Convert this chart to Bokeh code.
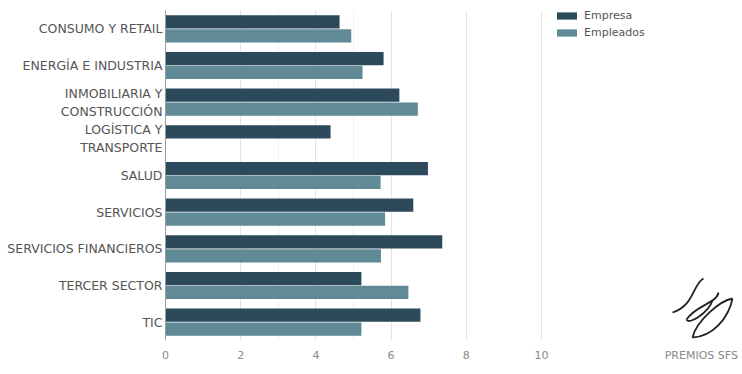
import numpy as np
from bokeh.plotting import figure
from bokeh.models import (ColumnDataSource, FactorRange, Range1d, FixedTicker,
                          Legend, LegendItem)
from bokeh.transform import dodge
from bokeh.embed import file_html
from bokeh.resources import INLINE

# ---- data ----
categories = ["CONSUMO Y RETAIL", "ENERGÍA E INDUSTRIA", "INMOBILIARIA Y\nCONSTRUCCIÓN",
              "LOGÍSTICA Y\nTRANSPORTE", "SALUD", "SERVICIOS", "SERVICIOS FINANCIEROS",
              "TERCER SECTOR", "TIC"]
empresa = [4.63, 5.80, 6.22, 4.39, 6.98, 6.59, 7.36, 5.21, 6.78]
empleados = [4.94, 5.24, 6.71, np.nan, 5.72, 5.84, 5.73, 6.46, 5.21]
x_ticks = [0, 2, 4, 6, 8, 10]
x_minor = [3, 5]
series_names = ["Empresa", "Empleados"]

DARK = "#2d4a5c"
LIGHT = "#608a95"
FONT = "DejaVu Sans"

W, H = 742, 368
LEFT, TOP, BOTTOM = 165, 10, 28
PX_PER_UNIT = 37.6
FRAME_H = H - TOP - BOTTOM
CAPTION_POS = 14.25  # x position (axis units) of the logo caption, beside the tick labels

def px_x(v):  # page pixel -> data x (decorative logo only)
    return (np.asarray(v, dtype=float) - LEFT) / PX_PER_UNIT

def px_y(v):  # page pixel -> synthetic categorical y (decorative logo only)
    return (H - BOTTOM - np.asarray(v, dtype=float)) / FRAME_H * len(categories)

src = ColumnDataSource(data=dict(cat=categories,
                                 empresa=np.array(empresa, dtype=float),
                                 empleados=np.array(empleados, dtype=float)))

p = figure(width=W, height=H, output_backend="svg", toolbar_location=None,
           y_range=FactorRange(factors=categories[::-1]),
           x_range=Range1d(0, (W - LEFT) / PX_PER_UNIT),
           min_border_left=LEFT, min_border_right=0, min_border_top=TOP,
           min_border_bottom=BOTTOM)
p.outline_line_color = None
p.background_fill_color = "white"

r_emp = p.hbar(y=dodge("cat", 0.19, range=p.y_range), right="empresa", left=0, height=0.36,
               source=src, fill_color=DARK, line_color=None)
r_empl = p.hbar(y=dodge("cat", -0.19, range=p.y_range), right="empleados", left=0, height=0.36,
                source=src, fill_color=LIGHT, line_color=None)

# axes
xa = p.xaxis[0]
xa.ticker = FixedTicker(ticks=x_ticks + [CAPTION_POS], minor_ticks=x_minor)
xa.major_label_overrides = {CAPTION_POS: "PREMIOS SFS"}
xa.axis_line_color = None
xa.major_tick_line_color = None
xa.minor_tick_line_color = None
xa.major_tick_out = 0
xa.minor_tick_out = 0
xa.major_label_standoff = 8
xa.major_label_text_font = FONT
xa.major_label_text_font_size = "11px"
xa.major_label_text_color = "#8a8a8a"

ya = p.yaxis[0]
ya.axis_line_color = "#9a9a9a"
ya.axis_line_width = 1
ya.major_tick_line_color = None
ya.major_tick_out = 0
ya.major_label_standoff = 3
ya.major_label_text_font = FONT
ya.major_label_text_font_size = "12.5px"
ya.major_label_text_color = "#555555"

p.xgrid[0].ticker = FixedTicker(ticks=x_ticks, minor_ticks=x_minor)
p.xgrid.grid_line_color = "#e4e4e4"
p.xgrid.minor_grid_line_color = "#f0f0f0"
p.ygrid.grid_line_color = None

legend = Legend(items=[LegendItem(label=series_names[0], renderers=[r_emp]),
                       LegendItem(label=series_names[1], renderers=[r_empl])],
                location=(389, 301), margin=0, padding=0, spacing=4,
                glyph_width=25, glyph_height=9, label_height=13, label_standoff=5,
                label_text_font=FONT, label_text_font_size="11px",
                label_text_color="#555555", border_line_color=None,
                background_fill_alpha=0)
p.add_layout(legend)

# logo strokes (decorative, page-pixel positions)
lx0 = [703, 718, 686, 692, 692]; ly0 = [278, 292, 319, 337, 337]
lx1 = [672, 686, 712, 732, 732]; ly1 = [312, 319, 300, 298, 298]
lcx0 = [692, 716, 688, 696, 712]; lcy0 = [284, 303, 325, 320, 336]
lcx1 = [694, 695, 708, 720, 728]; lcy1 = [305, 305, 312, 300, 318]
logo = dict(x0=px_x(lx0), y0=px_y(ly0), x1=px_x(lx1), y1=px_y(ly1),
            cx0=px_x(lcx0), cy0=px_y(lcy0), cx1=px_x(lcx1), cy1=px_y(lcy1))
p.bezier(x0="x0", y0="y0", x1="x1", y1="y1", cx0="cx0", cy0="cy0", cx1="cx1", cy1="cy1",
         source=ColumnDataSource(logo), line_color="#222222", line_width=1.8)

open("out.html", "w").write(file_html(p, INLINE))
